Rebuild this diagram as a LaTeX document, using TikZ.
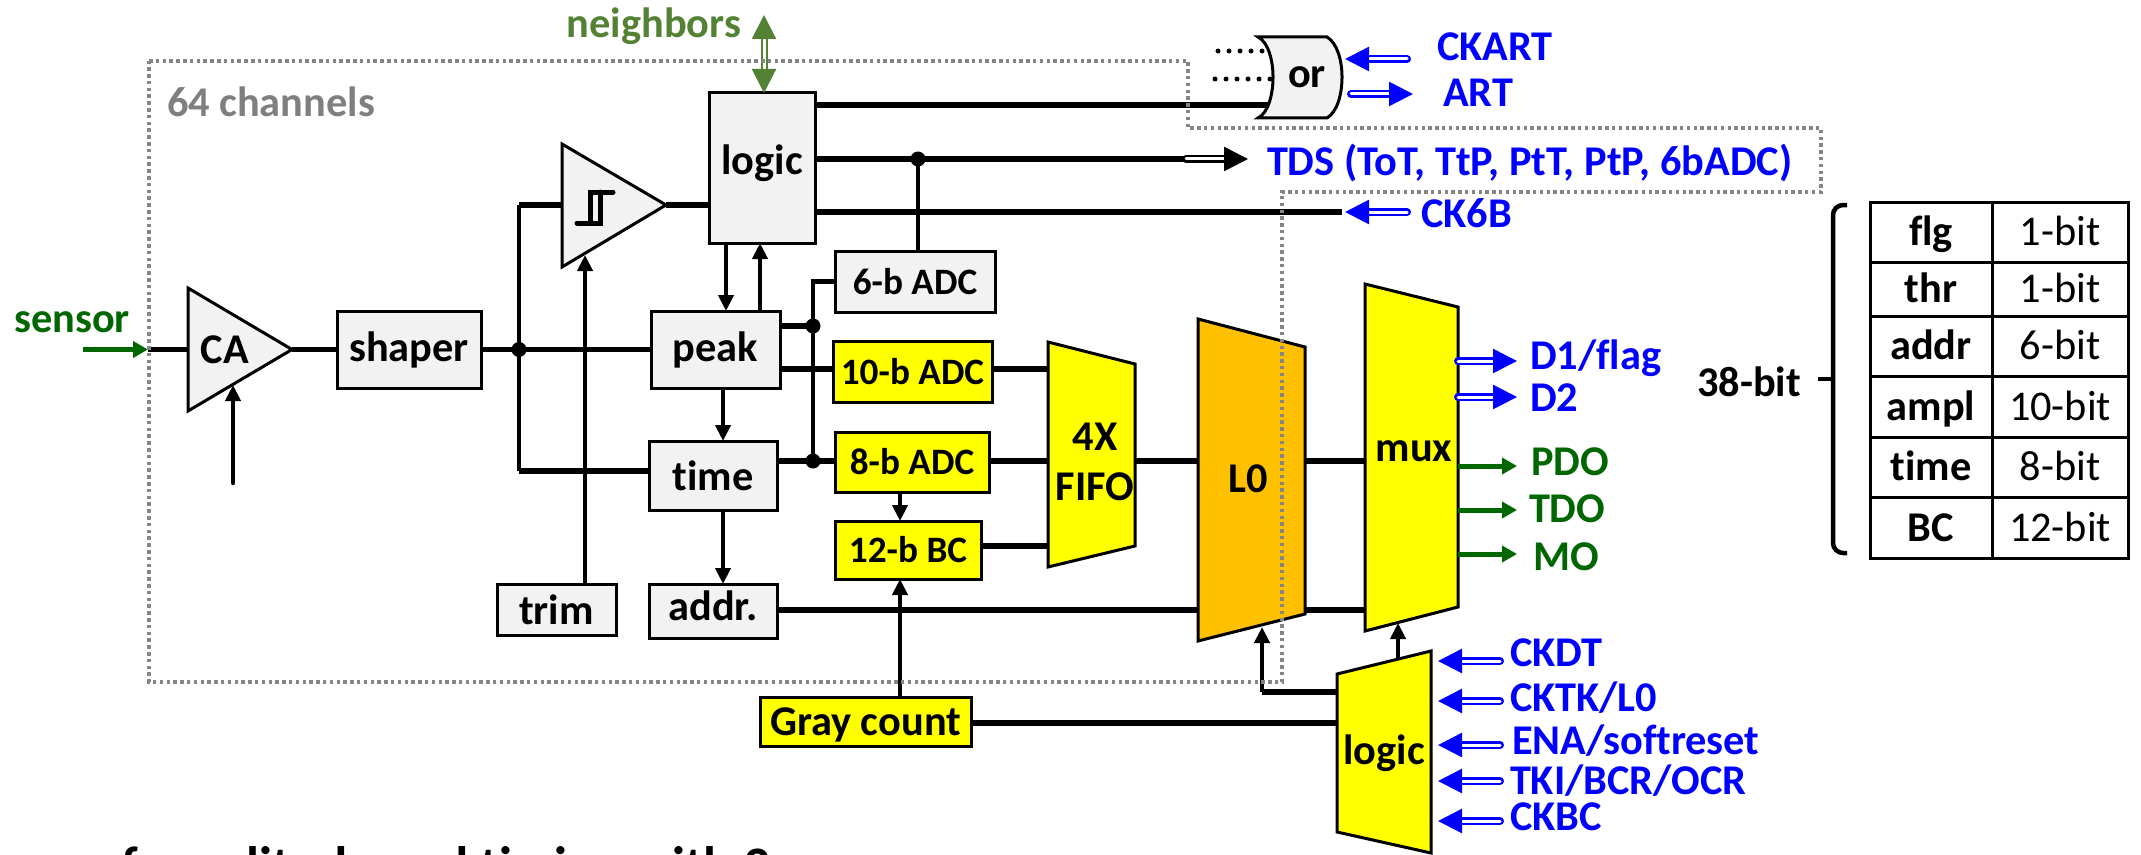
\documentclass[tikz,border=0pt]{standalone}
\usepackage{fontspec}
\usepackage{xcolor}
\usepackage{tikz}
\usetikzlibrary{arrows.meta, positioning, calc}
\setmainfont[Ligatures=NoCommon]{Carlito}
\definecolor{kfill}{HTML}{F2F2F2}
\definecolor{kyellow}{HTML}{FFFF00}
\definecolor{korange}{HTML}{FFC000}
\definecolor{kblue}{HTML}{0000FF}
\definecolor{kgreen}{HTML}{006600}
\definecolor{kolive}{HTML}{548235}
\definecolor{kdots}{HTML}{858585}
\definecolor{kgraytxt}{HTML}{7F7F7F}
\tikzset{
  bigtxt/.style={font=\fontsize{12.05}{14}\selectfont\bfseries, inner sep=0pt, outer sep=0pt},
  smalltxt/.style={font=\fontsize{10.6}{12.5}\selectfont\bfseries, inner sep=0pt, outer sep=0pt},
  blockgray/.style={bigtxt, draw=black, fill=kfill, line width=0.3mm},
  adcgray/.style={smalltxt, draw=black, fill=kfill, line width=0.3mm},
  adcyellow/.style={smalltxt, draw=black, fill=kyellow, line width=0.3mm},
  polyfill/.style={draw=black, line width=0.3mm, line join=miter},
  wirethick/.style={draw=black, line width=0.55mm},
  wirethin/.style={draw=black, line width=0.45mm},
  wirearrow/.style={wirethin, -{Triangle[length=1.6mm,width=1.5mm]}},
  greenarrow/.style={draw=kgreen, line width=0.5mm, -{Triangle[length=1.5mm,width=1.6mm]}},
  dblblue/.style={draw=kblue, line width=0.25mm, double=white, double distance=0.3mm, line cap=round, -{Triangle[length=2.4mm,width=2.4mm]}},
  dblblack/.style={draw=black, line width=0.25mm, double=white, double distance=0.3mm, line cap=round, -{Triangle[length=2.4mm,width=2.4mm]}},
  dblgreen/.style={draw=kolive, line width=0.2mm, double=white, double distance=0.3mm, {Triangle[length=2.4mm,width=2.4mm]}-{Triangle[length=2.4mm,width=2.4mm]}},
  junction/.style={circle, fill=black, inner sep=0pt, minimum size=1.5mm, outer sep=0pt},
  bluetxt/.style={bigtxt, text=kblue, anchor=west},
  greentxt/.style={bigtxt, text=kgreen, anchor=west},
  ordots/.style={draw=black, line width=0.5mm, line cap=round, dash pattern=on 0pt off 1.1mm},
  chanbox/.style={draw=kdots, line width=0.35mm, dash pattern=on 0.35mm off 0.33mm},
  cellbold/.style={bigtxt, draw=black, line width=0.3mm, text height=2.7mm, text depth=0pt},
  cellplain/.style={font=\fontsize{12.05}{14}\selectfont, inner sep=0pt, outer sep=0pt, draw=black, line width=0.3mm, text height=2.7mm, text depth=0pt},
}
\begin{document}
\begin{tikzpicture}[x=0.1mm, y=-0.1mm]

%% Background
\fill[white] (0,0) rectangle (2141,854);
\useasboundingbox (0,0) rectangle (2141,854);

%% ── Cut-off line below the figure ───────────────────────────────────────
\begin{scope}
\clip (0,0) rectangle (2141,854);
\node[font=\fontsize{15}{17}\selectfont\bfseries, inner sep=0pt, anchor=base west] (cutline) at (92,883) {of amplitude and timing with 3};
\end{scope}

%% ── Wires drawn first, blocks sit on top ────────────────────────────────
\coordinate (cmpup) at (519,205);
\coordinate (cmpleft) at (562,205);
\coordinate (cmptip) at (666,205);
\coordinate (timedown) at (519,471);
\coordinate (fifoa) at (1048,369);
\coordinate (fifob) at (1048,461);
\coordinate (fifoc) at (1048,546);
\coordinate (fifoout) at (1135,461);
\coordinate (lzeroin) at (1198,461);
\coordinate (lzeroout) at (1305,461);
\coordinate (muxin) at (1365,461);
\coordinate (addrin) at (1198,610);
\coordinate (addrout) at (1305,610);
\coordinate (addrmux) at (1365,610);
\coordinate (graypin) at (1337,723);
\coordinate (lgclzero) at (1337,692);
\coordinate (lzerocorner) at (1262,692);
\coordinate (lzerobase) at (1262,627);
\coordinate (lgcmuxa) at (1398,658);
\coordinate (lgcmuxb) at (1398,623);

%% ── Front end ───────────────────────────────────────────────────────────
\draw[wirethick] (148,349.5) coordinate (sensorend) -- (188,349.5) coordinate (cain);
\coordinate (sensorstart) at (83,349.5);
\draw[greenarrow] (sensorstart) -- (sensorend);
\node[bigtxt, text=kgreen] (lblsensor) at (72,322) {sensor};

\coordinate (caout) at (292,349.5);
\draw[polyfill, fill=kfill] (cain |- 0,288) -- (caout) -- (cain |- 0,411) -- cycle;
\node[bigtxt] (ca) at (225,350) {CA};
\coordinate (catail) at (233,483);
\coordinate (catip) at (233,385);
\draw[wirearrow, line cap=round] (catail) -- (catip);

\node[blockgray, minimum width=14.4mm, minimum height=7.7mm] (shaper) at (409,349.5) {shaper};
\draw[wirethick] (caout) -- (shaper.west);

\node[blockgray, minimum width=12.9mm, minimum height=7.7mm] (peak) at (715.5,349.5) {peak};
\node[junction] (jshaper) at (519,349.5) {};
\draw[wirethick] (shaper.east) -- (peak.west);

\node[blockgray, minimum width=12.8mm, minimum height=6.9mm] (time) at (713,475.5) {time};
\draw[wirethin] (cmpup) -- (timedown);
\draw[wirethick] (cmpup) -- (cmpleft);
\draw[wirethick] (timedown) -- (time.west |- timedown);

%% comparator
\draw[wirethick] (cmptip) -- (709,205) coordinate (logicin);
\draw[polyfill, fill=kfill] (cmpleft |- 0,144) -- (cmptip) -- (cmpleft |- 0,267) -- cycle;
\draw[black, line width=0.5mm, line cap=round] (577,223) -- (600,223) -- (600,192);
\draw[black, line width=0.5mm, line cap=round] (590,223) -- (590,192) -- (613,192);
\node[blockgray, minimum width=11.9mm, minimum height=5.1mm] (trim) at (556.5,609.5) {trim};
\coordinate (cmpin) at (585,255);
\draw[wirearrow] (cmpin |- trim.north) -- (cmpin);

%% ── Channel logic ───────────────────────────────────────────────────────
\node[blockgray, text depth=1.6mm, minimum width=10.6mm, minimum height=15mm] (logic) at (762,168) {logic};
\coordinate (upa) at (726,243);
\coordinate (upb) at (760,243);
\draw[wirearrow] (upa) -- (upa |- peak.north);
\draw[wirearrow] (upb |- peak.north) -- (upb);

\coordinate (orpin) at (1268,105);
\draw[wirethick] (logic.east |- orpin) -- (orpin);
\coordinate (tdspin) at (1186,159);
\coordinate (tdstip) at (1248,159);
\draw[wirethick] (logic.east |- tdspin) -- (tdspin);
\draw[dblblack] (tdspin) -- (tdstip);
\node[junction] (jtds) at (918,159) {};
\coordinate (cksixend) at (1342,212);
\draw[wirethick] (logic.east |- cksixend) -- (cksixend);

%% ── ADC column ──────────────────────────────────────────────────────────
\node[adcgray, minimum width=16mm, minimum height=6.1mm] (adcsix) at (915,281.5) {6-b ADC};
\draw[wirethin] (jtds) -- (jtds |- adcsix.north);
\node[adcyellow, minimum width=15.9mm, minimum height=6.1mm] (adcten) at (912.5,371.5) {10-b ADC};
\node[adcyellow, minimum width=15.4mm, minimum height=6mm] (adceight) at (912,462) {8-b ADC};
\node[adcyellow, minimum width=14.6mm, minimum height=5.8mm] (bctwelve) at (908,550) {12-b BC};

\node[junction] (jpeak) at (813,326) {};
\node[junction] (jtime) at (813,461) {};
\draw[wirethick] (peak.east |- jpeak) -- (jpeak);
\draw[wirethin] (adcsix.west) -- (adcsix.west -| jpeak) -- (jtime);
\draw[wirethick] (adcsix.west) -- (adcsix.west -| jpeak);
\draw[wirethick] (peak.east |- fifoa) -- (adcten.west |- fifoa);
\draw[wirethick] (time.east |- jtime) -- (adceight.west |- jtime);
\coordinate (bcdown) at (900,492);
\draw[wirearrow] (bcdown) -- (bcdown |- bctwelve.north);

\draw[wirethick] (adcten.east |- fifoa) -- (fifoa);
\draw[wirethick] (adceight.east |- fifob) -- (fifob);
\draw[wirethick] (bctwelve.east |- fifoc) -- (fifoc);

\node[blockgray, text depth=1mm, minimum width=12.8mm, minimum height=5.4mm] (addr) at (713,611) {addr.};
\coordinate (addrdown) at (723,510);
\coordinate (peakdown) at (723,388);
\draw[wirearrow] (addrdown) -- (addrdown |- addr.north);
\draw[wirearrow] (peakdown) -- (peakdown |- time.north);
\draw[wirethick] (addr.east |- addrin) -- (addrin);

\node[adcyellow, font=\fontsize{12.05}{14}\selectfont\bfseries, text height=3.4mm, minimum width=21.1mm, minimum height=4.9mm] (graycount) at (865.5,721.5) {Gray count};
\draw[wirearrow] (bcdown |- graycount.north) -- (bcdown |- bctwelve.south);
\draw[wirethick] (graycount.east |- graypin) -- (graypin);

%% ── Pipeline ────────────────────────────────────────────────────────────
\draw[wirethick] (fifoout) -- (lzeroin);
\draw[wirethick] (lzeroout) -- (muxin);
\draw[wirethick] (addrout) -- (addrmux);
\draw[polyfill, fill=kyellow] (1048,342) -- (1135,364) -- (1135,546) -- (1048,567) -- cycle;
\node[bigtxt, align=center] (fifo) at (1095,462) {4X\\FIFO};
\draw[polyfill, fill=korange] (1198,319) -- (1305,347) -- (1305,614) -- (1198,641) -- cycle;
\node[bigtxt] (lzero) at (1248,479) {L0};
\draw[polyfill, fill=kyellow] (1365,284) -- (1458,307) -- (1458,607) -- (1365,631) -- cycle;
\node[bigtxt] (mux) at (1414,451) {mux};

%% control logic
\draw[wirethick] (lgclzero) -- (lzerocorner);
\draw[wirearrow] (lzerocorner) -- (lzerobase);
\draw[wirearrow] (lgcmuxa) -- (lgcmuxb);
\draw[polyfill, fill=kyellow] (1337,674) -- (1431,651) -- (1431,853) -- (1337,832) -- cycle;
\node[bigtxt] (ctrl) at (1384,753) {logic};

%% ── Outputs ─────────────────────────────────────────────────────────────
\coordinate (flagout) at (1458,361); \coordinate (flagtip) at (1517,361);
\draw[dblblue] (flagout) -- (flagtip);
\node[bluetxt] (lblflag) at (1530,358) {D1/flag};
\coordinate (dtwoout) at (1458,397); \coordinate (dtwotip) at (1517,397);
\draw[dblblue] (dtwoout) -- (dtwotip);
\node[bluetxt] (lbldtwo) at (1530,398) {D2};

\coordinate (pdoout) at (1458,466); \coordinate (pdotip) at (1517,466);
\draw[greenarrow] (pdoout) -- (pdotip);
\node[greentxt] (lblpdo) at (1531,462) {PDO};
\coordinate (tdoout) at (1458,510); \coordinate (tdotip) at (1517,510);
\draw[greenarrow] (tdoout) -- (tdotip);
\node[greentxt] (lbltdo) at (1529,509) {TDO};
\coordinate (moout) at (1458,554); \coordinate (motip) at (1517,554);
\draw[greenarrow] (moout) -- (motip);
\node[greentxt] (lblmo) at (1533,557) {MO};

%% ── Clock inputs ────────────────────────────────────────────────────────
\coordinate (ckdta) at (1500,661); \coordinate (ckdtb) at (1438,661);
\draw[dblblue] (ckdta) -- (ckdtb);
\node[bluetxt] (lblckdt) at (1510,653) {CKDT};
\coordinate (cktka) at (1500,701); \coordinate (cktkb) at (1438,701);
\draw[dblblue] (cktka) -- (cktkb);
\node[bluetxt] (lblcktk) at (1510,698) {CKTK/L0};
\coordinate (enaa) at (1500,745); \coordinate (enab) at (1438,745);
\draw[dblblue] (enaa) -- (enab);
\node[bluetxt] (lblena) at (1512,741) {ENA/softreset};
\coordinate (tkia) at (1500,781); \coordinate (tkib) at (1438,781);
\draw[dblblue] (tkia) -- (tkib);
\node[bluetxt] (lbltki) at (1510,781) {TKI/BCR/OCR};
\coordinate (ckbca) at (1500,821); \coordinate (ckbcb) at (1438,821);
\draw[dblblue] (ckbca) -- (ckbcb);
\node[bluetxt] (lblckbc) at (1510,817) {CKBC};

%% ── Or gate and top signals ─────────────────────────────────────────────
\draw[polyfill, fill=kfill] (1258,37) .. controls (1268,42) and (1273,60) .. (1273,77)
  .. controls (1273,95) and (1268,113) .. (1258,118) -- (1327,118)
  .. controls (1337,112) and (1342,95) .. (1342,77)
  .. controls (1342,60) and (1337,43) .. (1327,37) -- cycle;
\node[bigtxt] (orgate) at (1307,77) {or};
\coordinate (dotaa) at (1218,51); \coordinate (dotab) at (1263,51);
\draw[ordots] (dotaa) -- (dotab);
\coordinate (dotba) at (1215,79); \coordinate (dotbb) at (1271,79);
\draw[ordots] (dotba) -- (dotbb);

\coordinate (ckarta) at (1407,59); \coordinate (ckartb) at (1345,59);
\draw[dblblue] (ckarta) -- (ckartb);
\node[bluetxt] (lblckart) at (1437,47) {CKART};
\coordinate (arta) at (1351,94); \coordinate (artb) at (1413,94);
\draw[dblblue] (arta) -- (artb);
\node[bluetxt] (lblart) at (1443,93) {ART};
\node[bluetxt] (lbltds) at (1267,163) {TDS (ToT, TtP, PtT, PtP, 6bADC)};
\coordinate (cksixa) at (1407,212); \coordinate (cksixb) at (1345,212);
\draw[dblblue] (cksixa) -- (cksixb);
\node[bluetxt] (lblcksix) at (1421,213) {CK6B};

\node[bigtxt, text=kolive] (lblneighbors) at (654,26) {neighbors};
\coordinate (neigha) at (764,15);
\draw[dblgreen] (neigha) -- (neigha |- logic.north);

%% ── 64 channel outline ──────────────────────────────────────────────────
\draw[chanbox] (149,61) -- (1188,61) -- (1188,128) -- (1821,128) -- (1821,192) -- (1282,192) -- (1282,682) -- (149,682) -- cycle;
\node[bigtxt, text=kgraytxt, anchor=west] (lblchannels) at (167,102) {64 channels};

%% ── Word format ─────────────────────────────────────────────────────────
\node[bigtxt] (lblbits) at (1749,382) {38-bit};
\draw[black, line width=0.45mm, rounded corners=1mm] (1847,205) -- (1833,205) -- (1833,553) -- (1847,553);
\coordinate (bracetick) at (1818,379);
\draw[black, line width=0.45mm] (bracetick) -- (1833,379);

\node[cellbold, minimum width=12.2mm, minimum height=6mm] (flgname) at (1931,232) {flg};
\node[cellplain, minimum width=13.6mm, minimum height=6mm] (flgbits) at (2060,232) {1-bit};
\node[cellbold, minimum width=12.2mm, minimum height=5.4mm] (thrname) at (1931,289) {thr};
\node[cellplain, minimum width=13.6mm, minimum height=5.4mm] (thrbits) at (2060,289) {1-bit};
\node[cellbold, minimum width=12.2mm, minimum height=6mm] (addrname) at (1931,346) {addr};
\node[cellplain, minimum width=13.6mm, minimum height=6mm] (addrbits) at (2060,346) {6-bit};
\node[cellbold, minimum width=12.2mm, minimum height=6.1mm] (amplname) at (1931,406.5) {ampl};
\node[cellplain, minimum width=13.6mm, minimum height=6.1mm] (amplbits) at (2060,406.5) {10-bit};
\node[cellbold, minimum width=12.2mm, minimum height=6mm] (timename) at (1931,467) {time};
\node[cellplain, minimum width=13.6mm, minimum height=6mm] (timebits) at (2060,467) {8-bit};
\node[cellbold, minimum width=12.2mm, minimum height=6.1mm] (bcname) at (1931,527.5) {BC};
\node[cellplain, minimum width=13.6mm, minimum height=6.1mm] (bcbits) at (2060,527.5) {12-bit};

\end{tikzpicture}
\end{document}
